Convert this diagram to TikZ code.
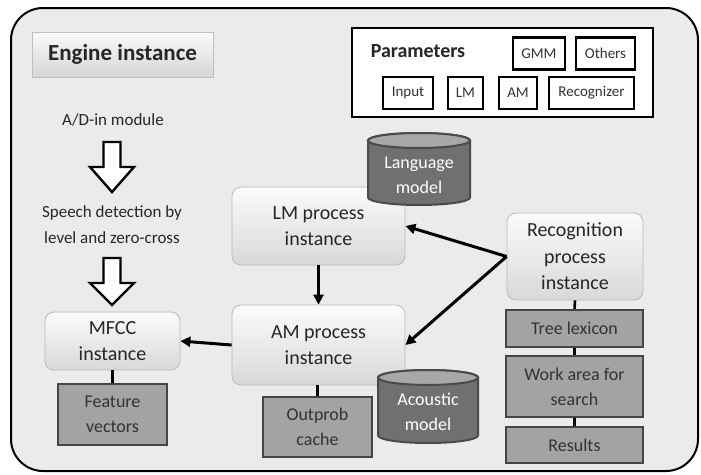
\documentclass[tikz,border=0pt]{standalone}
\usepackage{fontspec}
\setmainfont{Carlito}
\usetikzlibrary{arrows.meta}

\definecolor{panelbg}{HTML}{EBEBEB}
\definecolor{storefill}{HTML}{A3A3A3}
\definecolor{storeline}{HTML}{454545}
\definecolor{cylbody}{HTML}{707070}
\definecolor{cyltop}{HTML}{A8A8A8}
\definecolor{cylline}{HTML}{4A4A4A}

\begin{document}
\begin{tikzpicture}[x=1pt,y=-1pt,
  procbox/.style={draw=gray!55, line width=0.8pt, rounded corners=9pt,
    top color=gray!3, bottom color=gray!30, align=center, inner sep=0pt,
    text=black!85, font=\fontsize{20}{26.5}\selectfont},
  storebox/.style={draw=storeline, line width=2.4pt, fill=storefill,
    align=center, inner sep=0pt, text=black!80,
    font=\fontsize{18}{25}\selectfont},
  parambox/.style={draw=black, line width=2.6pt, fill=white, inner sep=0pt,
    minimum height=32pt, text=black!80, font=\fontsize{15}{18}\selectfont},
  plainlabel/.style={inner sep=0pt, align=center, text=black!85,
    font=\fontsize{17}{26}\selectfont},
  cyllabel/.style={inner sep=0pt, align=center, text=white,
    font=\fontsize{18}{25}\selectfont},
  arr/.style={line width=3pt, -{Triangle[length=10pt,width=10pt]}},
  link/.style={line width=2.6pt},
  hollow/.style={draw=black, line width=2.4pt, fill=white, line join=miter}
]
\useasboundingbox (0,0) rectangle (701,474);

% outer panel
\draw[line width=2pt, fill=panelbg, rounded corners=32pt] (11,8) rectangle (698,471);

% title
\node[draw=gray!50, line width=0.8pt, top color=gray!4, bottom color=gray!32,
  minimum width=181pt, minimum height=45pt, inner sep=0pt,
  font=\fontsize{23}{28}\selectfont\bfseries, text=black!85]
  (engine) at (122.5,54.5) {Engine instance};

% parameters panel
\node[draw=black, line width=2.8pt, fill=white, minimum width=301pt,
  minimum height=89pt, inner sep=0pt] (params) at (502.5,72.5) {};
\node[inner sep=0pt, font=\fontsize{20}{24}\selectfont\bfseries, text=black!85]
  (paramtitle) at (418,51) {Parameters};
\node[parambox, minimum width=52pt] (pgmm) at (539,53.5) {GMM};
\node[parambox, minimum width=59pt] (pothers) at (605.5,53.5) {Others};
\node[parambox, minimum width=50pt] (pinput) at (408,93) {Input};
\node[parambox, minimum width=35pt] (plm) at (465.5,93) {LM};
\node[parambox, minimum width=38pt] (pam) at (518,93) {AM};
\node[parambox, minimum width=85pt] (preco) at (591.5,93) {Recognizer};

% front end
\node[plainlabel] (adin) at (113,120) {A/D-in module};
\node[plainlabel] (speech) at (112,225) {Speech detection by\\level and zero-cross};
\draw[hollow] (103.5,142) -- (120.5,142) -- (120.5,167) -- (134,167) -- (112,192)
  -- (90,167) -- (103.5,167) -- cycle;
\draw[hollow] (103.5,258) -- (120.5,258) -- (120.5,283) -- (134,283) -- (112,305)
  -- (90,283) -- (103.5,283) -- cycle;

% process instances
\node[procbox, minimum width=173pt, minimum height=78pt] (lmp) at (318.5,226)
  {LM process\\instance};
\node[procbox, minimum width=173pt, minimum height=80pt] (amp) at (318.5,345)
  {AM process\\instance};
\node[procbox, minimum width=135pt, minimum height=58pt] (mfcc) at (112.5,341)
  {MFCC\\instance};
\node[procbox, minimum width=136pt, minimum height=87pt] (rec) at (575,256.5)
  {Recognition\\process\\instance};

% work areas
\node[storebox, minimum width=109pt, minimum height=61pt] (feat) at (112.5,414.5)
  {Feature\\vectors};
\node[storebox, minimum width=109pt, minimum height=60pt] (outprob) at (317.5,427)
  {Outprob\\cache};
\node[storebox, minimum width=137pt, minimum height=37pt] (tree) at (574.5,328.5)
  {Tree lexicon};
\node[storebox, minimum width=137pt, minimum height=61pt] (work) at (574.5,386.5)
  {Work area for\\search};
\node[storebox, minimum width=137pt, minimum height=36pt] (results) at (574.5,445)
  {Results};

% language model store
\path[fill=cylbody, draw=cylline, line width=2pt]
  (368,140.5) -- (368,197.5)
  arc[start angle=180, end angle=360, x radius=51pt, y radius=7.5pt]
  -- (470,140.5)
  arc[start angle=0, end angle=180, x radius=51pt, y radius=7.5pt] -- cycle;
\path[fill=cyltop, draw=cylline, line width=2pt]
  (419,140.5) ellipse[x radius=51pt, y radius=7.5pt];
\node[cyllabel] (lmodel) at (419,175) {Language\\model};

% acoustic model store
\path[fill=cylbody, draw=cylline, line width=2pt]
  (378,377.5) -- (378,435.5)
  arc[start angle=180, end angle=360, x radius=50pt, y radius=7.5pt]
  -- (478,377.5)
  arc[start angle=0, end angle=180, x radius=50pt, y radius=7.5pt] -- cycle;
\path[fill=cyltop, draw=cylline, line width=2pt]
  (428,377.5) ellipse[x radius=50pt, y radius=7.5pt];
\node[cyllabel] (amodel) at (428,412) {Acoustic\\model};

% connectors
\draw[arr] (lmp.south) -- (amp.north);
\draw[arr] (amp.west) -- (mfcc.east);
\draw[arr] (rec.west) -- (lmp.east);
\draw[arr] (rec.west) -- (amp.east);

\draw[link] (mfcc.south) -- (feat.north);
\draw[link] (amp.south -| outprob.north) -- (outprob.north);
\draw[link] (rec.south) -- (tree.north);
\draw[link] (tree.south) -- (work.north);
\draw[link] (work.south) -- (results.north);
\end{tikzpicture}
\end{document}
